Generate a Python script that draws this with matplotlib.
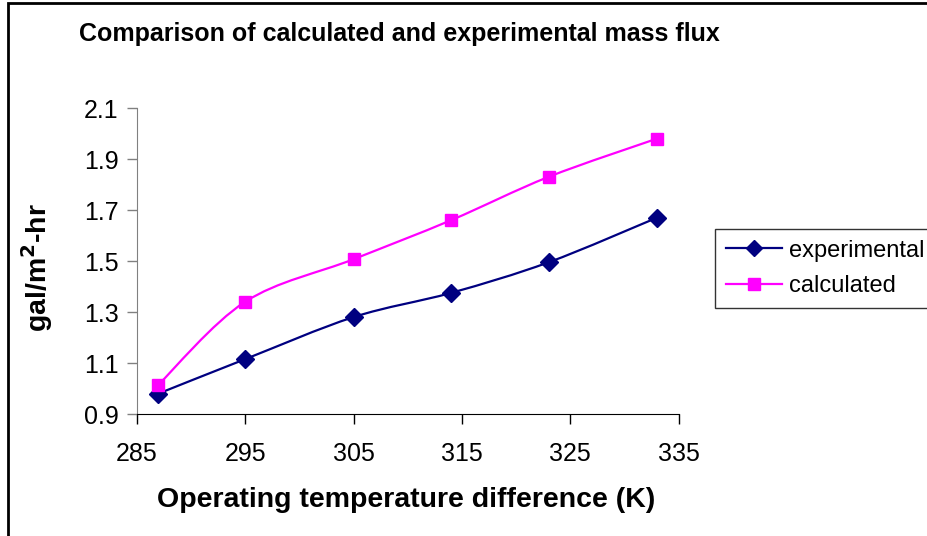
import matplotlib
matplotlib.use("Agg")
import matplotlib.pyplot as plt
from matplotlib.path import Path
from matplotlib.patches import PathPatch, Rectangle
from matplotlib.lines import Line2D
import numpy as np

plt.rcParams["font.family"] = ["Liberation Sans", "DejaVu Sans"]

# values
temps = [287, 295, 305, 314, 323, 333]
experimental = [0.98, 1.115, 1.28, 1.375, 1.495, 1.67]
calculated = [1.015, 1.34, 1.507, 1.66, 1.83, 1.98]
x_ticks = [285, 295, 305, 315, 325, 335]
y_ticks = [0.9, 1.1, 1.3, 1.5, 1.7, 1.9, 2.1]


def smooth_path(xs, ys):
    # Excel-like smoothed line: cubic bezier segments through the points
    p = np.column_stack([xs, ys]).astype(float)
    n = len(p)
    verts = [p[0]]
    codes = [Path.MOVETO]
    for i in range(n - 1):
        prev = p[i - 1] if i > 0 else p[i]
        nxt = p[i + 2] if i + 2 < n else p[i + 1]
        c1 = p[i] + (p[i + 1] - prev) / 6
        c2 = p[i + 1] - (nxt - p[i]) / 6
        verts += [c1, c2, p[i + 1]]
        codes += [Path.CURVE4] * 3
    return Path(verts, codes)


fig = plt.figure(figsize=(9.28, 5.36), dpi=100)
ax = fig.add_axes([0.1473, 0.2276, 0.7314 - 0.1473, 0.7985 - 0.2276])

series = [
    ("experimental", experimental, "#000080", "D", 9),
    ("calculated", calculated, "#FF00FF", "s", 9),
]
handles = []
for name, vals, col, mk, ms in series:
    ax.add_patch(PathPatch(smooth_path(temps, vals), facecolor="none",
                           edgecolor=col, lw=1.6, zorder=2))
    ax.plot(temps, vals, ls="none", marker=mk, ms=ms, color=col, zorder=3)
    handles.append(Line2D([], [], color=col, lw=1.6, marker=mk, ms=ms - 1, label=name))

ax.set_xlim(285, 335)
ax.set_ylim(0.9, 2.1)
ax.set_xticks(x_ticks)
ax.set_yticks(y_ticks)
ax.set_yticklabels([f"{v:.1f}" for v in y_ticks])
ax.tick_params(labelsize=18, direction="out", length=7, width=1, pad=6)
ax.tick_params(axis="x", pad=13)
for s in ("top", "right"):
    ax.spines[s].set_visible(False)
ax.spines["left"].set_color("#808080")
ax.spines["bottom"].set_color("black")
ax.tick_params(axis="y", colors="#808080", labelcolor="black")

fig.text(0.085, 0.937, "Comparison of calculated and experimental mass flux",
         fontsize=18, fontweight="bold", va="center", ha="left")
fig.text(0.438, 0.067, "Operating temperature difference (K)",
         fontsize=20.5, fontweight="bold", ha="center", va="center")
fig.text(0.04, 0.5, "gal/m$^\\mathbf{2}$-hr", fontsize=20.5, fontweight="bold",
         rotation=90, ha="center", va="center")

leg = fig.legend(handles=handles, loc="upper left",
                 bbox_to_anchor=(715 / 928, 1 - 229 / 536), fontsize=17,
                 frameon=True, fancybox=False, handlelength=2.4,
                 handletextpad=0.3, borderpad=0.45, labelspacing=0.57,
                 borderaxespad=0)
leg.get_frame().set_edgecolor("black")
leg.get_frame().set_linewidth(1)

fig.patches.append(Rectangle((8 / 928, -0.05), 1.1, 1 - 2.5 / 536 + 0.05,
                             transform=fig.transFigure, fill=False,
                             edgecolor="black", lw=2))

fig.savefig("out.png", dpi=100)
